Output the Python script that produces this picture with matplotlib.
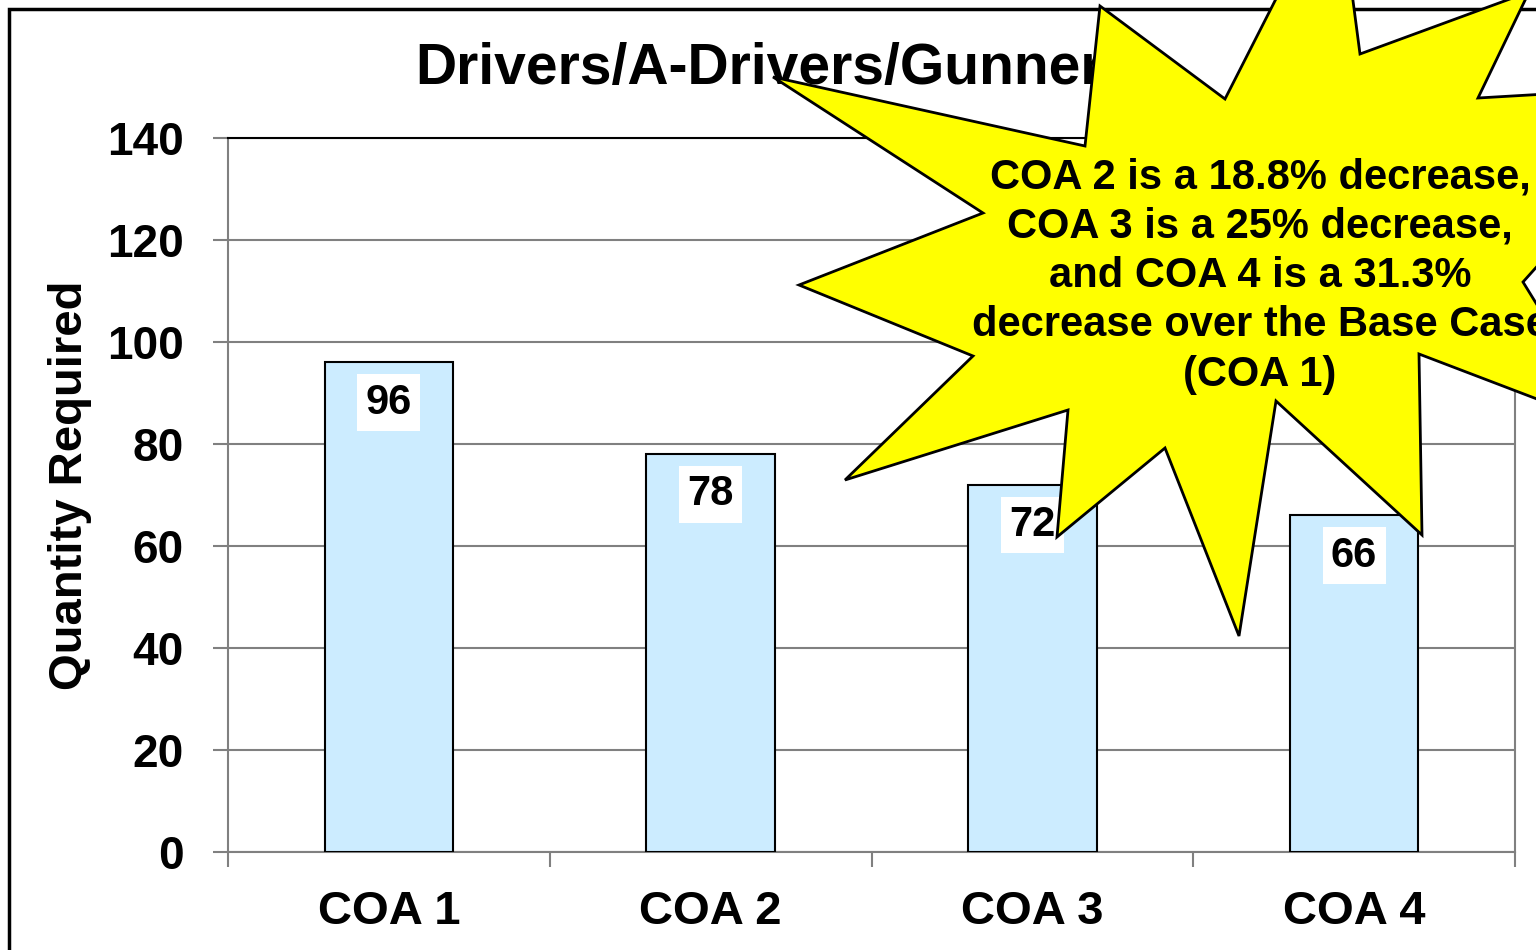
import matplotlib
matplotlib.use("Agg")
import matplotlib.pyplot as plt
from matplotlib.patches import Polygon, Rectangle

# chart data
categories = ["COA 1", "COA 2", "COA 3", "COA 4"]
quantity = [96, 78, 72, 66]
y_ticks = [0, 20, 40, 60, 80, 100, 120, 140]
title = "Drivers/A-Drivers/Gunners"
ylabel = "Quantity Required"
callout = ("COA 2 is a 18.8% decrease,\nCOA 3 is a 25% decrease,\n"
           "and COA 4 is a 31.3%\ndecrease over the Base Case\n(COA 1)")

# starburst outline, in pixels from the top-left corner of the picture
star_px = [(773, 77), (1085, 146), (1100, 6), (1225, 99), (1337, -121),
           (1360, 54), (1529, -8), (1478, 98), (1700, 85), (1523, 282),
           (1613, 428), (1419, 354), (1422, 535), (1276, 401), (1239, 636),
           (1165, 448), (1057, 537), (1068, 410), (845, 480), (973, 356),
           (799, 285), (983, 213)]

W, H = 1536, 950
plt.rcParams['font.family'] = ['Liberation Sans', 'DejaVu Sans']
plt.rcParams['font.weight'] = 'bold'

fig = plt.figure(figsize=(W / 100, H / 100), dpi=100)
fig.patch.set_facecolor("white")

def fx(x):
    return x / W

def fy(y):
    return 1 - y / H

ax = fig.add_axes([fx(228), fy(852), (1515 - 228) / W, (852 - 138) / H])

x = range(len(categories))
bars = ax.bar(x, quantity, width=0.4, color="#CCECFF", edgecolor="black",
              linewidth=1.5, zorder=3)

for b, v in zip(bars, quantity):
    ax.annotate(str(v), (b.get_x() + b.get_width() / 2, v),
                xytext=(0, -29), textcoords="offset points",
                ha="center", va="center", fontsize=30, fontweight="bold",
                bbox=dict(boxstyle="square,pad=0.2", fc="white", ec="none"),
                zorder=4)

ax.set_xlim(-0.5, 3.5)
ax.set_ylim(0, 140)
ax.set_yticks(y_ticks)
ax.set_yticklabels([str(t) for t in y_ticks])
ax.set_xticks(list(x))
ax.set_xticklabels(categories)
ax.set_xticks([i - 0.5 for i in range(len(categories) + 1)], minor=True)
ax.tick_params(axis="x", which="major", length=0, pad=27, labelsize=34)
ax.tick_params(axis="x", which="minor", length=11, width=1.5,
               color="#808080", direction="out")
ax.tick_params(axis="y", length=11, width=1.5, color="#808080",
               pad=21, labelsize=33)
ax.grid(axis="y", color="#808080", linewidth=1.5, zorder=0)
ax.set_axisbelow(True)
for s in ["left", "bottom", "right"]:
    ax.spines[s].set_color("#808080")
    ax.spines[s].set_linewidth(1.5)
ax.spines["top"].set_color("black")
ax.spines["top"].set_linewidth(1.5)

fig.text(fx(70), fy(485), ylabel, rotation=90, ha="center", va="center",
         fontsize=34, fontweight="bold")
fig.text(fx(415), fy(84), title, ha="left", va="baseline", fontsize=41,
         fontweight="bold", zorder=1)

# outer chart frame
fig.add_artist(Rectangle((fx(9), -0.1), 1.2, fy(9) + 0.1,
                         transform=fig.transFigure, fill=False,
                         edgecolor="black", linewidth=2.5, zorder=0.5))

# yellow starburst callout
star = Polygon([(fx(px), fy(py)) for px, py in star_px], closed=True,
               transform=fig.transFigure, facecolor="#FFFF00",
               edgecolor="black", linewidth=2, zorder=5)
fig.add_artist(star)
fig.text(fx(1260), fy(276), callout, ha="center", va="center", fontsize=30,
         fontweight="bold", linespacing=1.3, zorder=6)

fig.savefig("out.png", dpi=100)
